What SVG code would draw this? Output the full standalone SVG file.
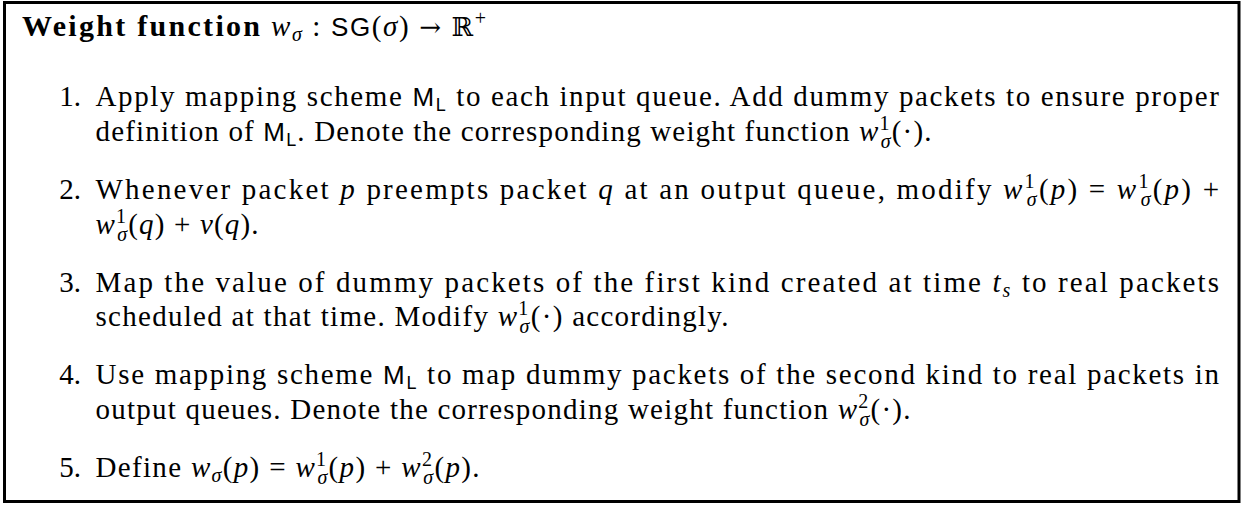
<svg xmlns="http://www.w3.org/2000/svg" width="1250" height="505" viewBox="0 0 1250 505">
<style>
.t{font-family:"Liberation Serif",serif;font-size:29px;fill:#000}
.n{text-anchor:end}
.b{font-weight:bold;font-size:30px}
.i{font-style:italic}
.sf{font-family:"Liberation Sans",sans-serif;font-size:26px}
.sl{font-family:"Liberation Sans",sans-serif;font-size:18px}
.s{font-size:20px}
.sym{font-family:"DejaVu Serif",serif;font-size:26px}
</style>
<rect x="4.5" y="2.5" width="1234.5" height="499" fill="#fff" stroke="#000" stroke-width="3"/>
<g id="title">
<text class="t b" x="22" y="36" textLength="238" lengthAdjust="spacing">Weight function</text>
<text class="t" x="271" y="36" textLength="215" lengthAdjust="spacing"><tspan class="i">w</tspan><tspan class="i s" dy="5">σ</tspan><tspan dy="-5"> : </tspan><tspan class="sf">SG</tspan>(<tspan class="i">σ</tspan>) <tspan class="sym">→</tspan> <tspan class="sym">ℝ</tspan><tspan class="s" dy="-11">+</tspan></text>
</g>
<g id="item1">
<text class="t n" x="81" y="106">1.</text>
<text class="t" x="95.5" y="106" textLength="1123.5" lengthAdjust="spacing">Apply mapping scheme <tspan class="sf">M</tspan><tspan class="sl" dy="5">L</tspan><tspan dy="-5"> to each input queue. Add dummy packets to ensure proper</tspan></text>
<text class="t" x="95.5" y="140.8" textLength="836" lengthAdjust="spacing">definition of <tspan class="sf">M</tspan><tspan class="sl" dy="5">L</tspan><tspan dy="-5">. Denote the corresponding weight function </tspan><tspan class="i">w</tspan><tspan class="s" dy="-11">1</tspan><tspan class="i s" dx="-10" dy="18">σ</tspan><tspan dy="-7">(·).</tspan></text>
</g>
<g id="item2">
<text class="t n" x="81" y="198.8">2.</text>
<text class="t" x="95.5" y="198.8" textLength="1123.5" lengthAdjust="spacing">Whenever packet <tspan class="i">p</tspan> preempts packet <tspan class="i">q</tspan> at an output queue, modify <tspan class="i">w</tspan><tspan class="s" dy="-11">1</tspan><tspan class="i s" dx="-10" dy="18">σ</tspan><tspan dy="-7">(</tspan><tspan class="i">p</tspan>) = <tspan class="i">w</tspan><tspan class="s" dy="-11">1</tspan><tspan class="i s" dx="-10" dy="18">σ</tspan><tspan dy="-7">(</tspan><tspan class="i">p</tspan>) +</text>
<text class="t" x="95.5" y="233.6" textLength="163" lengthAdjust="spacing"><tspan class="i">w</tspan><tspan class="s" dy="-11">1</tspan><tspan class="i s" dx="-10" dy="18">σ</tspan><tspan dy="-7">(</tspan><tspan class="i">q</tspan>) + <tspan class="i">v</tspan>(<tspan class="i">q</tspan>).</text>
</g>
<g id="item3">
<text class="t n" x="81" y="291.6">3.</text>
<text class="t" x="95.5" y="291.6" textLength="1123.5" lengthAdjust="spacing">Map the value of dummy packets of the first kind created at time <tspan class="i">t</tspan><tspan class="i s" dy="5">s</tspan><tspan dy="-5"> to real packets</tspan></text>
<text class="t" x="95.5" y="326.4" textLength="633" lengthAdjust="spacing">scheduled at that time. Modify <tspan class="i">w</tspan><tspan class="s" dy="-11">1</tspan><tspan class="i s" dx="-10" dy="18">σ</tspan><tspan dy="-7">(·) accordingly.</tspan></text>
</g>
<g id="item4">
<text class="t n" x="81" y="384.4">4.</text>
<text class="t" x="95.5" y="384.4" textLength="1123.5" lengthAdjust="spacing">Use mapping scheme <tspan class="sf">M</tspan><tspan class="sl" dy="5">L</tspan><tspan dy="-5"> to map dummy packets of the second kind to real packets in</tspan></text>
<text class="t" x="95.5" y="419.2" textLength="815" lengthAdjust="spacing">output queues. Denote the corresponding weight function <tspan class="i">w</tspan><tspan class="s" dy="-11">2</tspan><tspan class="i s" dx="-10" dy="18">σ</tspan><tspan dy="-7">(·).</tspan></text>
</g>
<g id="item5">
<text class="t n" x="81" y="477.2">5.</text>
<text class="t" x="95.5" y="477.2" textLength="384" lengthAdjust="spacing">Define <tspan class="i">w</tspan><tspan class="i s" dy="5">σ</tspan><tspan dy="-5">(</tspan><tspan class="i">p</tspan>) = <tspan class="i">w</tspan><tspan class="s" dy="-11">1</tspan><tspan class="i s" dx="-10" dy="18">σ</tspan><tspan dy="-7">(</tspan><tspan class="i">p</tspan>) + <tspan class="i">w</tspan><tspan class="s" dy="-11">2</tspan><tspan class="i s" dx="-10" dy="18">σ</tspan><tspan dy="-7">(</tspan><tspan class="i">p</tspan>).</text>
</g>
</svg>
